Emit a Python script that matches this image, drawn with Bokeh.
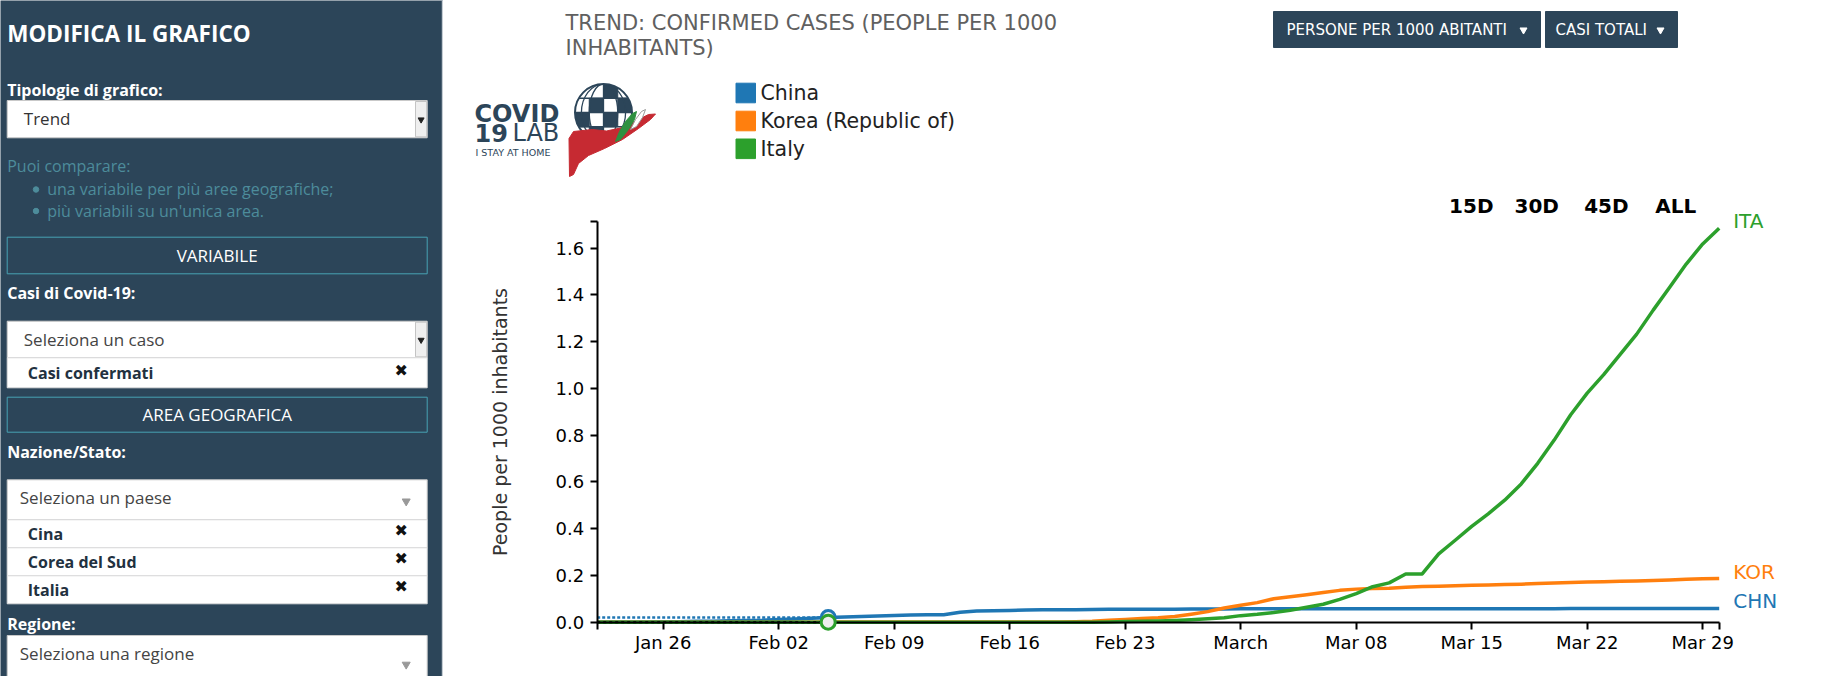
import numpy as np
import pandas as pd
from bokeh.plotting import figure
from bokeh.models import Range1d, FixedTicker, PrintfTickFormatter, Label
from bokeh.layouts import row
from bokeh.embed import file_html
from bokeh.resources import INLINE
from bokeh.core.properties import value

# ---------------- data ----------------
dates = pd.date_range("2020-01-22", "2020-03-30", freq="D")
countries = ["China", "Korea (Republic of)", "Italy"]
codes = ["CHN", "KOR", "ITA"]
colors = ["#1f77b4", "#ff7f0e", "#2ca02c"]

china = [0.0004, 0.0005, 0.0007, 0.0010, 0.0015, 0.0021, 0.0039, 0.0043, 0.0058, 0.0070,
         0.0085, 0.0119, 0.0141, 0.0169, 0.0196, 0.0218, 0.0244, 0.0263, 0.0284, 0.0303,
         0.0317, 0.0320, 0.0428, 0.0474, 0.0489, 0.0504, 0.0517, 0.0530, 0.0533, 0.0536,
         0.0540, 0.0550, 0.0550, 0.0552, 0.0555, 0.0558, 0.0561, 0.0564, 0.0567, 0.0571,
         0.0572, 0.0573, 0.0574, 0.0575, 0.0576, 0.0577, 0.0577, 0.0578, 0.0578, 0.0578,
         0.0578, 0.0578, 0.0578, 0.0579, 0.0579, 0.0579, 0.0579, 0.0580, 0.0580, 0.0581,
         0.0582, 0.0582, 0.0583, 0.0583, 0.0584, 0.0585, 0.0586, 0.0587, 0.0587]
korea = [0.0000, 0.0000, 0.0000, 0.0000, 0.0001, 0.0001, 0.0001, 0.0001, 0.0001, 0.0002,
         0.0002, 0.0003, 0.0003, 0.0003, 0.0004, 0.0004, 0.0005, 0.0005, 0.0005, 0.0005,
         0.0005, 0.0005, 0.0005, 0.0005, 0.0005, 0.0006, 0.0006, 0.0006, 0.0006, 0.0020,
         0.0039, 0.0084, 0.0116, 0.0161, 0.0189, 0.0244, 0.0342, 0.0452, 0.0609, 0.0723,
         0.0838, 0.1003, 0.1087, 0.1178, 0.1275, 0.1362, 0.1415, 0.1446, 0.1453, 0.1500,
         0.1522, 0.1543, 0.1564, 0.1579, 0.1593, 0.1609, 0.1627, 0.1657, 0.1674, 0.1702,
         0.1721, 0.1733, 0.1748, 0.1767, 0.1787, 0.1805, 0.1833, 0.1854, 0.1869]
italy = [0.0000, 0.0000, 0.0000, 0.0000, 0.0000, 0.0000, 0.0000, 0.0000, 0.0000, 0.0000,
         0.0000, 0.0000, 0.0000, 0.0000, 0.0000, 0.0000, 0.0000, 0.0000, 0.0000, 0.0000,
         0.0000, 0.0000, 0.0000, 0.0000, 0.0000, 0.0000, 0.0000, 0.0000, 0.0000, 0.0000,
         0.0003, 0.0010, 0.0026, 0.0038, 0.0053, 0.0075, 0.0109, 0.0147, 0.0187, 0.0281,
         0.0337, 0.0415, 0.0512, 0.0639, 0.0768, 0.0975, 0.1222, 0.1520, 0.1681, 0.2065,
         0.2065, 0.2926, 0.3505, 0.4100, 0.4636, 0.5220, 0.5917, 0.6798, 0.7790, 0.8876,
         0.9798, 1.0591, 1.1460, 1.2324, 1.3351, 1.4330, 1.5320, 1.6184, 1.6855]
series = [china, korea, italy]

x_tick_dates = ["2020-01-26", "2020-02-02", "2020-02-09", "2020-02-16", "2020-02-23",
                "2020-03-01", "2020-03-08", "2020-03-15", "2020-03-22", "2020-03-29"]
x_tick_labels = ["Jan 26", "Feb 02", "Feb 09", "Feb 16", "Feb 23",
                 "March", "Mar 08", "Mar 15", "Mar 22", "Mar 29"]
y_ticks = [0.0, 0.2, 0.4, 0.6, 0.8, 1.0, 1.2, 1.4, 1.6]
y_max = 1.7155
hover_date = "2020-02-05"
range_buttons = ["15D", "30D", "45D", "ALL"]
sidebar_countries = ["Cina", "Corea del Sud", "Italia"]

# ---------------- helpers ----------------
SIDEBAR = "#2c4559"
NAVY = "#2c4559"
TEAL_TXT = "#4d8c9b"
TEAL_BOX = "#48a3b4"


def txt(fig, x, y, s, size, color, bold=False, font="Open Sans", align="left",
        baseline="middle", **kw):
    fig.text(x=[x], y=[y], text=[s], text_font=value(font), text_font_size=f"{size}px",
             text_color=color, text_font_style="bold" if bold else "normal",
             text_align=align, text_baseline=baseline, **kw)


# ---------------- sidebar ----------------
sb = figure(width=443, height=676, x_range=Range1d(0, 443), y_range=Range1d(676, 0),
            x_axis_type=None, y_axis_type=None, output_backend="svg", toolbar_location=None,
            min_border=0, background_fill_color=SIDEBAR, border_fill_color=SIDEBAR)
sb.grid.visible = False
sb.outline_line_color = None
sb.quad(left=[441.8], right=[443], top=[0], bottom=[676], color="#cfd6dc")

txt(sb, 6.7, 32.5, "MODIFICA IL GRAFICO", 22.5, "white", bold=True)
txt(sb, 6.7, 89.5, "Tipologie di grafico:", 16, "white", bold=True)


def select_box(top, bottom, native=True):
    sb.quad(left=[6.7], right=[426.7], top=[top], bottom=[bottom], fill_color="white",
            line_color="#c9c9c9", line_width=1)
    if native:
        sb.quad(left=[415], right=[426.2], top=[top + 1], bottom=[bottom - 1],
                fill_color="#efefef", line_color="#c4c4c4", line_width=1)
        sb.scatter(x=[420.6], y=[(top + bottom) / 2 + 0.5], marker="inverted_triangle",
                   size=6, color="#222")
    else:
        sb.scatter(x=[405.7], y=[(top + bottom) / 2 + 1.5], marker="inverted_triangle",
                   size=8, color="#999")


select_box(100, 137.3)
txt(sb, 23.3, 118.3, "Trend", 17, "#333")

txt(sb, 6.7, 165, "Puoi comparare:", 16, TEAL_TXT)
sb.scatter(x=[35.5, 35.5], y=[189.0, 210.5], size=5.5, color=TEAL_TXT)
txt(sb, 46.7, 188.5, "una variabile per più aree geografiche;", 16, TEAL_TXT)
txt(sb, 46.7, 210, "più variabili su un'unica area.", 16, TEAL_TXT)

sb.quad(left=[6.7], right=[426.7], top=[236.7], bottom=[273.3], fill_color=None,
        line_color=TEAL_BOX, line_width=1)
txt(sb, 216.7, 255, "VARIABILE", 17, "white", align="center")

txt(sb, 6.7, 292.8, "Casi di Covid-19:", 16, "white", bold=True)
select_box(320.7, 357.3)
txt(sb, 23.3, 339.3, "Seleziona un caso", 17, "#444")
sb.quad(left=[6.7], right=[426.7], top=[357.3], bottom=[387.3], fill_color="white",
        line_color="#dddddd", line_width=1)
txt(sb, 27.3, 372.8, "Casi confermati", 16, "#22313f", bold=True)
txt(sb, 400.7, 369.5, "✖", 16, "#111", font="DejaVu Sans", align="center")

sb.quad(left=[6.7], right=[426.7], top=[396.7], bottom=[431.7], fill_color=None,
        line_color=TEAL_BOX, line_width=1)
txt(sb, 216.7, 414.2, "AREA GEOGRAFICA", 17, "white", align="center")

txt(sb, 6.7, 451.2, "Nazione/Stato:", 16, "white", bold=True)
select_box(479.3, 519.3, native=False)
txt(sb, 19.3, 496.8, "Seleziona un paese", 17, "#444")

for name, t in zip(sidebar_countries, [519.3, 547.3, 575.3]):
    sb.quad(left=[6.7], right=[426.7], top=[t], bottom=[t + 28], fill_color="white",
            line_color="#dddddd", line_width=1)
    txt(sb, 27.3, t + 14.6, name, 16, "#22313f", bold=True)
    txt(sb, 400.7, t + 10.5, "✖", 16, "#111", font="DejaVu Sans", align="center")

txt(sb, 6.7, 623.5, "Regione:", 16, "white", bold=True)
select_box(635, 690, native=False)
txt(sb, 19.3, 652.8, "Seleziona una regione", 17, "#444")

# ---------------- main panel (header + chart share one frame) ----------------
to_ms = lambda d: pd.Timestamp(d).value / 1e6
xs = [to_ms(d) for d in dates]
DAY = 86400000.0
FIG_L, FIG_W, FIG_H = 443, 1383, 676
X0, PX_DAY = 596.7, 16.5          # page x of first date, pixels per day
Y0, PX_UNIT = 621.7, 233.75       # page y of value 0, pixels per unit
x_start = xs[0] - (X0 - FIG_L) / PX_DAY * DAY
x_end = x_start + FIG_W / PX_DAY * DAY
y_top = Y0 / PX_UNIT
y_bot = -(FIG_H - Y0) / PX_UNIT

p = figure(width=FIG_W, height=FIG_H, x_axis_type="datetime",
           x_range=Range1d(x_start, x_end), y_range=Range1d(y_bot, y_top),
           output_backend="svg", toolbar_location=None, min_border=0,
           background_fill_color="white", border_fill_color="white")
p.grid.visible = False
p.outline_line_color = None
p.extra_x_ranges = {"px": Range1d(FIG_L, FIG_L + FIG_W)}
p.extra_y_ranges = {"px": Range1d(FIG_H, 0)}
PX = dict(x_range_name="px", y_range_name="px")

# --- header: title
txt(p, 565, 22.5, "TREND: CONFIRMED CASES (PEOPLE PER 1000", 21, "#606060", font="DejaVu Sans", **PX)
txt(p, 565, 47, "INHABITANTS)", 21, "#606060", font="DejaVu Sans", **PX)

# --- header: logo
txt(p, 474, 113.5, "COVID", 24, NAVY, bold=True, font="DejaVu Sans", **PX)
txt(p, 474, 132.5, "19", 24, NAVY, bold=True, font="DejaVu Sans", **PX)
txt(p, 512, 132.5, "LAB", 24, NAVY, font="DejaVu Sans", **PX)
txt(p, 475, 151.5, "I STAY AT HOME", 9.5, NAVY, font="DejaVu Sans", **PX)

gx, gy, gr = 603, 112, 28.5
cs = 14.25
for i in range(-2, 2):
    for j in range(-2, 2):
        cx, cy = gx + (i + 0.5) * cs, gy + (j + 0.5) * cs
        if (i + j) % 2 == 0 and np.hypot(cx - gx, cy - gy) < gr * 0.82:
            p.quad(left=[cx - cs / 2], right=[cx + cs / 2], top=[cy - cs / 2],
                   bottom=[cy + cs / 2], color=NAVY, **PX)
for k in (-1, 0, 1):
    h = np.sqrt(gr ** 2 - (k * cs) ** 2)
    p.segment(x0=[gx - h], y0=[gy + k * cs], x1=[gx + h], y1=[gy + k * cs],
              line_color=NAVY, line_width=1.3, **PX)
p.segment(x0=[gx], y0=[gy - gr], x1=[gx], y1=[gy + gr], line_color=NAVY, line_width=1.3, **PX)
p.ellipse(x=[gx, gx], y=[gy, gy], width=[2 * cs, 2 * cs * 1.55], height=[2 * gr, 2 * gr],
          fill_color=None, line_color=NAVY, line_width=1.3, **PX)
p.circle(x=[gx], y=[gy], radius=gr + 5, fill_color=None, line_color="white", line_width=10, **PX)
p.circle(x=[gx], y=[gy], radius=gr, fill_color=None, line_color=NAVY, line_width=2, **PX)

hand_x = [569.0, 568.5, 573.0, 592.0, 606.0, 622.0, 636.0, 648.0, 655.0, 650.0, 638.0, 622.0,
          604.0, 588.0, 578.0, 573.0]
hand_y = [176.0, 138.0, 131.0, 129.0, 130.5, 127.0, 120.0, 114.0, 113.5, 119.0, 128.0, 139.0,
          148.0, 155.0, 163.0, 174.0]
p.patch(hand_x, hand_y, fill_color="#c62a32", line_color="#c62a32", **PX)
p.patch([615, 619, 625, 632, 636, 634, 628, 620], [141, 131, 121, 113, 111, 119, 129, 139],
        fill_color="#2e9140", line_color="#2e9140", **PX)
p.patch([630, 635, 641, 645, 642, 636], [129, 119, 111, 109, 117, 126],
        fill_color="white", line_color="#9a9a9a", line_width=1, **PX)

# --- header: legend
for c, col, yc in zip(countries, colors, [92.5, 120.5, 148.3]):
    p.quad(left=[735.5], right=[755], top=[yc - 9.8], bottom=[yc + 9.8], color=col, **PX)
    txt(p, 760, yc, c, 20.5, "#222222", font="DejaVu Sans", **PX)

# --- header: buttons
p.quad(left=[1273, 1545], right=[1540, 1677], top=[11, 11], bottom=[47, 47], color=NAVY, **PX)
txt(p, 1286, 29, "PERSONE PER 1000 ABITANTI", 15, "white", font="DejaVu Sans", **PX)
txt(p, 1555, 29, "CASI TOTALI", 15, "white", font="DejaVu Sans", **PX)
p.scatter(x=[1523, 1660], y=[29.5, 29.5], marker="inverted_triangle", size=7, color="white", **PX)

# --- range buttons
for lbl, xl in zip(range_buttons, [1448.6, 1514, 1583.7, 1654.7]):
    txt(p, xl, 205, lbl, 20, "black", bold=True, font="DejaVu Sans", **PX)

# --- axes
tick_ms = [to_ms(d) for d in x_tick_dates]
xa = p.xaxis[0]
xa.ticker = FixedTicker(ticks=[xs[0]] + tick_ms + [xs[-1]])
ov = {t: l for t, l in zip(tick_ms, x_tick_labels)}
ov[xs[0]] = ""
ov[xs[-1]] = ""
xa.major_label_overrides = ov
xa.bounds = (xs[0], xs[-1])
xa.fixed_location = 0
xa.major_label_standoff = 3

ya = p.yaxis[0]
ya.ticker = FixedTicker(ticks=y_ticks + [y_max])
ya.formatter = PrintfTickFormatter(format="%.1f")
ya.major_label_overrides = {y_max: ""}
ya.bounds = (0, y_max)
ya.fixed_location = xs[0]
ya.major_label_standoff = 6
ya.axis_label = "People per 1000 inhabitants"
ya.axis_label_text_font = "DejaVu Sans"
ya.axis_label_text_font_size = "19px"
ya.axis_label_text_font_style = "normal"
ya.axis_label_text_color = "#333333"
ya.axis_label_standoff = 42

for ax in (xa, ya):
    ax.axis_line_width = 2
    ax.axis_line_color = "black"
    ax.major_tick_line_width = 2
    ax.major_tick_line_color = "black"
    ax.major_tick_out = 7
    ax.major_tick_in = 0
    ax.minor_tick_line_color = None
    ax.major_label_text_font = "DejaVu Sans"
    ax.major_label_text_font_size = "18px"
    ax.major_label_text_color = "black"

# --- series
for vals, col in zip(series, colors):
    p.line(xs, vals, line_color=col, line_width=3.5, line_join="round")

# hover guides and markers
hi = list(dates).index(pd.Timestamp(hover_date))
p.line([xs[0], xs[hi]], [china[hi], china[hi]], line_color=colors[0], line_width=2.5,
       line_dash="3 2")
p.line([xs[0], xs[hi]], [italy[hi], italy[hi]], line_color="black", line_width=2,
       line_dash="3 3", level="overlay")
p.scatter([xs[hi]], [china[hi]], size=14, fill_color="#eeeeee", line_color=colors[0], line_width=3)
p.scatter([xs[hi]], [italy[hi]], size=14, fill_color="#eeeeee", line_color=colors[2], line_width=3,
          level="overlay")

# end labels
for vals, col, code in zip(series, colors, codes):
    p.add_layout(Label(x=xs[-1], y=vals[-1], x_offset=14, y_offset=7, text=code,
                       text_color=col, text_font="DejaVu Sans", text_font_size="20px",
                       text_baseline="middle", text_align="left"))

layout = row(sb, p)
open("out.html", "w").write(file_html(layout, INLINE))
